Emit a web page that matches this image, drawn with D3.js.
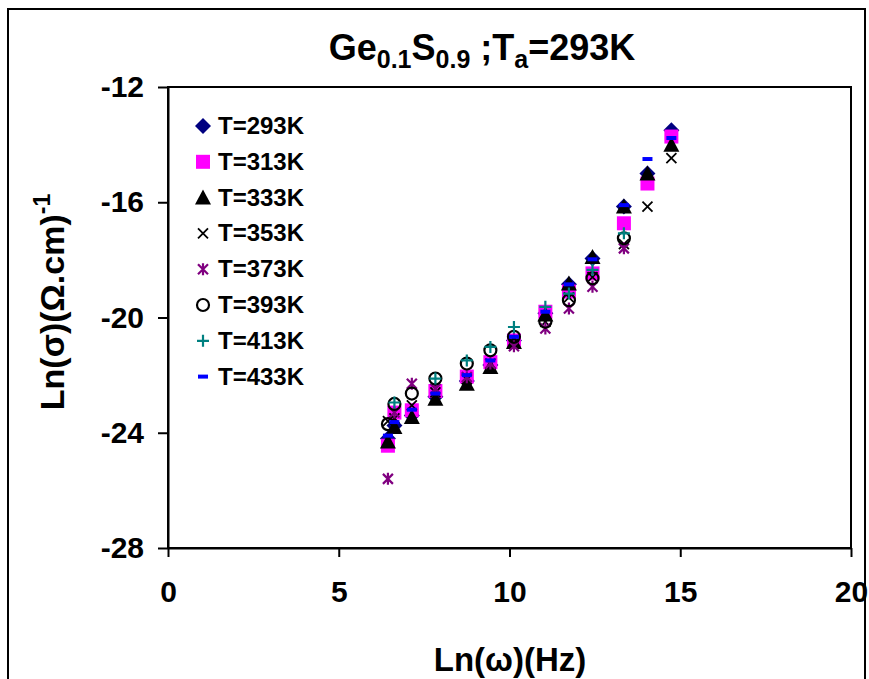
<!DOCTYPE html>
<html>
<head>
<meta charset="utf-8">
<script src="https://cdn.jsdelivr.net/npm/d3@7"></script>
<style>
  body { margin: 0; background: #fff; }
  svg text { font-family: "Liberation Sans", Arial, sans-serif; font-weight: bold; }
</style>
</head>
<body>
<svg id="chart" width="869" height="679"></svg>
<script>
// ln(omega) values shared by all series
var lnW = [6.44, 6.63, 7.14, 7.83, 8.75, 9.44, 10.13, 11.05, 11.74, 12.43, 13.35, 14.04, 14.74];

var t293 = [-24.2, -23.75, -23.4, -22.75, -22.2, -21.65, -20.8, -19.85, -18.85, -17.95, -16.15, -15.0, -13.5];
var t313 = [-24.45, -23.3, -23.22, -22.55, -22.05, -21.55, -20.8, -19.8, -19.1, -18.47, -16.73, -15.35, -13.72];
var t333 = [-24.3, -23.8, -23.45, -22.82, -22.3, -21.72, -20.85, -19.9, -18.82, -17.9, -16.15, -15.0, -14.0];
var t353 = [-23.6, -23.5, -23.05, -22.6, -22.15, -21.6, -20.9, -20.15, -19.3, -18.6, -17.45, -16.15, -14.47];
var t373 = [-25.6, -23.3, -22.3, -22.47, -22.07, -21.6, -21.0, -20.38, -19.69, -18.93, -17.6, null, null];
var t393 = [-23.7, -23.0, -22.64, -22.12, -21.6, -21.14, -20.67, -20.15, -19.4, -18.64, -17.25, null, null];
var t413 = [null, -22.95, null, -22.12, -21.49, -21.02, -20.33, -19.63, -19.17, -18.35, -17.08, null, null];
var t433 = [-24.1, -23.63, -23.2, -22.64, -22.0, -21.49, -20.67, -19.8, -18.85, -17.98, -16.1, -14.5, -13.77];

var seriesNames = ["T=293K", "T=313K", "T=333K", "T=353K", "T=373K", "T=393K", "T=413K", "T=433K"];
var seriesVals = [t293, t313, t333, t353, t373, t393, t413, t433];
var markers = ["diamond", "square", "triangle", "x", "star", "circle", "plus", "dash"];
var colors = ["#000080", "#FF00FF", "#000000", "#000000", "#800080", "#000000", "#008080", "#0000FF"];

var xTicks = [0, 5, 10, 15, 20];
var yTicks = [-28, -24, -20, -16, -12];

var svg = d3.select("#chart");

// outer frame
svg.append("rect")
    .attr("x", 8).attr("y", 9)
    .attr("width", 857).attr("height", 700)
    .attr("fill", "none").attr("stroke", "#000").attr("stroke-width", 2);

var x = d3.scaleLinear().domain([0, 20]).range([168, 851]);
var y = d3.scaleLinear().domain([-28, -12]).range([548, 87]);

// plot area border
svg.append("rect")
    .attr("x", x(0)).attr("y", y(-12))
    .attr("width", x(20) - x(0)).attr("height", y(-28) - y(-12))
    .attr("fill", "none").attr("stroke", "#000").attr("stroke-width", 2);

var xAxis = svg.append("g")
    .attr("transform", "translate(0," + y(-28) + ")")
    .call(d3.axisBottom(x).tickValues(xTicks).tickSize(9).tickPadding(24).tickSizeOuter(0));
var yAxis = svg.append("g")
    .attr("transform", "translate(" + x(0) + ",0)")
    .call(d3.axisLeft(y).tickValues(yTicks).tickSize(10).tickPadding(14).tickSizeOuter(0)
        .tickFormat(d3.format("d")));

[xAxis, yAxis].forEach(function (a) {
    a.select(".domain").attr("stroke-width", 2);
    a.selectAll(".tick line").attr("stroke-width", 2);
    a.selectAll(".tick text")
        .style("font-size", "30px")
        .style("font-family", "'Liberation Sans', Arial, sans-serif")
        .style("font-weight", "bold")
        .attr("fill", "#000");
});
yAxis.selectAll(".tick text").text(function (d) { return "-" + Math.abs(d); });

// title
var title = svg.append("text")
    .attr("x", 482).attr("y", 60)
    .attr("text-anchor", "middle")
    .style("font-size", "36px");
title.append("tspan").text("Ge");
title.append("tspan").attr("dy", 8).style("font-size", "25px").text("0.1");
title.append("tspan").attr("dy", -8).text("S");
title.append("tspan").attr("dy", 8).style("font-size", "25px").text("0.9");
title.append("tspan").attr("dy", -8).text(" ;T");
title.append("tspan").attr("dy", 8).style("font-size", "25px").text("a");
title.append("tspan").attr("dy", -8).text("=293K");

// x label
svg.append("text")
    .attr("x", 510).attr("y", 671)
    .attr("text-anchor", "middle")
    .style("font-size", "33px")
    .text("Ln(\u03c9)(Hz)");

// y label
var yl = svg.append("text")
    .attr("transform", "translate(64,302)rotate(-90)")
    .attr("text-anchor", "middle")
    .style("font-size", "34px");
yl.append("tspan").text("Ln(\u03c3)(\u03a9.cm)");
yl.append("tspan").attr("dy", -14).style("font-size", "23px").text("-1");

function markerPath(type) {
    switch (type) {
        case "diamond": return "M0,-8L8,0L0,8L-8,0Z";
        case "square": return "M-7,-7H7V7H-7Z";
        case "triangle": return "M0,-8L8,7H-8Z";
        case "x": return "M-5,-5L5,5M-5,5L5,-5";
        case "star": return "M-5,-5L5,5M-5,5L5,-5M0,-6V6";
        case "circle": return "M6,0A6,6 0 1,1 -6,0A6,6 0 1,1 6,0";
        case "plus": return "M-6,0H6M0,-6V6";
        case "dash": return "M-5,-2H5V2H-5Z";
    }
}

function drawMarker(sel, type, color) {
    var filled = ["diamond", "square", "triangle", "dash"].indexOf(type) >= 0;
    sel.append("path")
        .attr("d", markerPath(type))
        .attr("fill", filled ? color : "none")
        .attr("stroke", filled ? "none" : color)
        .attr("stroke-width", type === "x" ? 1.8 : 2.2);
}

// data points
seriesVals.forEach(function (vals, i) {
    var pts = lnW.map(function (w, j) { return [w, vals[j]]; })
        .filter(function (d) { return d[1] !== null; });
    svg.append("g")
        .selectAll("g")
        .data(pts)
        .enter()
        .append("g")
        .attr("transform", function (d) { return "translate(" + x(d[0]) + "," + y(d[1]) + ")"; })
        .each(function () { drawMarker(d3.select(this), markers[i], colors[i]); });
});

// legend
var legend = svg.append("g");
seriesNames.forEach(function (name, i) {
    var row = legend.append("g")
        .attr("transform", "translate(203," + (126 + i * 35.8) + ")");
    drawMarker(row, markers[i], colors[i]);
    row.append("text")
        .attr("x", 15).attr("y", 8)
        .style("font-size", "24px")
        .text(name);
});
</script>
</body>
</html>
